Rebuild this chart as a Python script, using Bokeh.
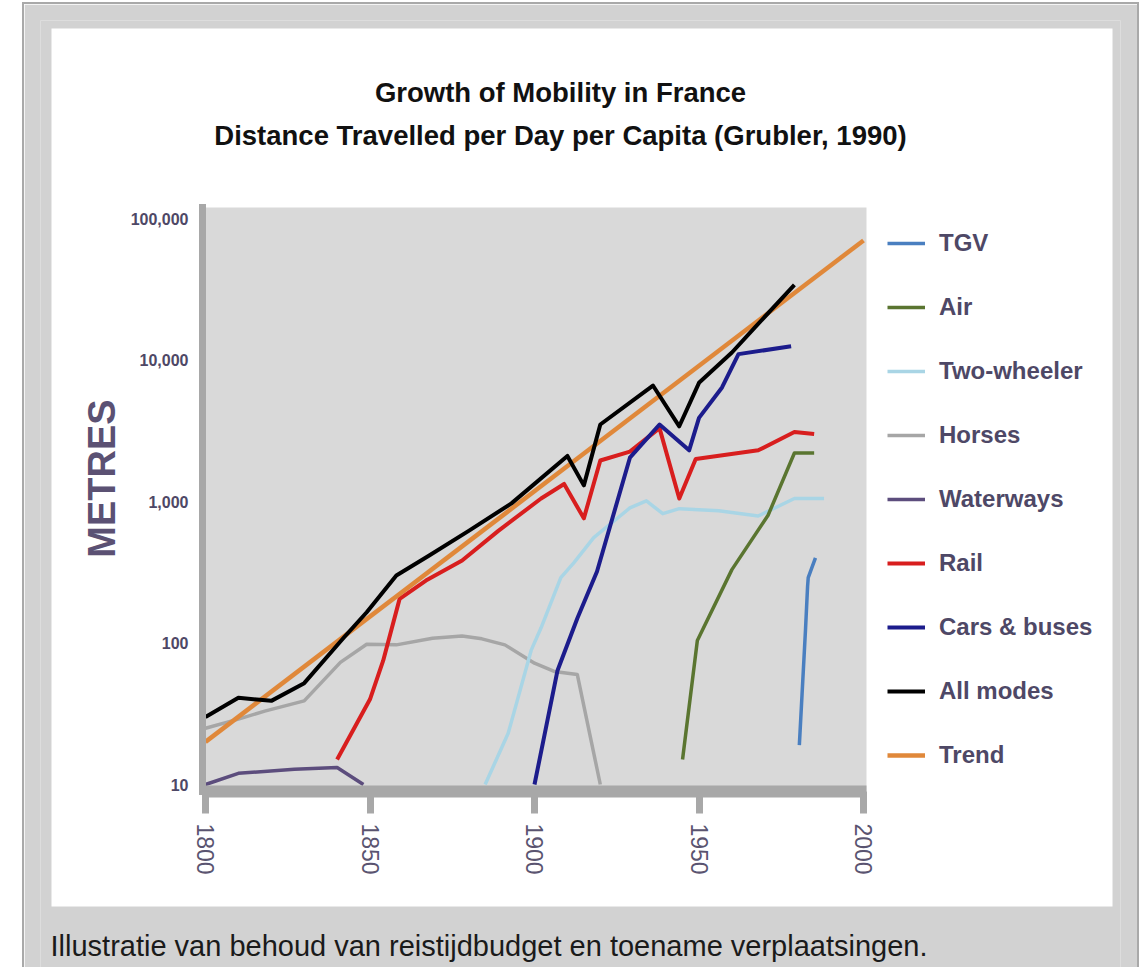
import math
from bokeh.plotting import figure
from bokeh.models import (Range1d, FixedTicker, NumeralTickFormatter, Legend, LegendItem,
                          Label, BoxAnnotation)
from bokeh.embed import file_html
from bokeh.resources import INLINE

# ---------------- data ----------------
x_ticks = [1800, 1850, 1900, 1950, 2000]
y_ticks = [10, 100, 1000, 10000, 100000]

trend_years = [1800, 2000]
trend_vals = [20, 70000]

all_years = [1800, 1810, 1820, 1830, 1842, 1849, 1858, 1868, 1880, 1893, 1910, 1915,
             1920, 1936, 1944, 1950, 1960, 1967, 1979]
all_vals = [30, 41, 39, 52, 109, 165, 300, 415, 620, 970, 2100, 1300,
            3500, 6600, 3400, 6900, 11300, 17000, 34000]

rail_years = [1840, 1850, 1854, 1859, 1867, 1878, 1889, 1902, 1909, 1915, 1920, 1929,
              1938, 1944, 1949, 1968, 1979, 1985]
rail_vals = [15, 40, 75, 205, 276, 383, 620, 1050, 1330, 760, 1950, 2250,
             3300, 1050, 2000, 2300, 3100, 3000]

horse_years = [1800, 1810, 1818, 1830, 1841, 1849, 1858, 1869, 1878, 1884, 1891, 1900,
               1906, 1913, 1920]
horse_vals = [25, 29, 33, 39, 73, 98, 97, 108, 112, 107, 97, 72, 63, 60, 10]

water_years = [1800, 1810, 1827, 1840, 1848]
water_vals = [10, 12, 12.8, 13.2, 10]

two_years = [1885, 1892, 1899, 1902, 1908, 1912, 1918, 1929, 1934, 1939, 1944, 1956,
             1968, 1979, 1988]
two_vals = [10, 23, 89, 128, 290, 370, 556, 900, 1010, 820, 890, 860, 790, 1050, 1050]

car_years = [1900, 1907, 1913, 1919, 1929, 1938, 1947, 1950, 1957, 1962, 1978]
car_vals = [10, 64, 149, 320, 2040, 3500, 2300, 3900, 6400, 11000, 12500]

air_years = [1945, 1949.5, 1960, 1971, 1979, 1985]
air_vals = [15, 104, 330, 800, 2200, 2200]

tgv_years = [1980.5, 1982.4, 1983, 1983.2, 1985.4]
tgv_vals = [19, 128, 250, 290, 400]

series_names = ["TGV", "Air", "Two-wheeler", "Horses", "Waterways", "Rail",
                "Cars & buses", "All modes", "Trend"]
series_colors = {
    "TGV": "#4a7fc0",
    "Air": "#5a7530",
    "Two-wheeler": "#a9d5e5",
    "Horses": "#a6a6a6",
    "Waterways": "#5c4d7d",
    "Rail": "#d81e1e",
    "Cars & buses": "#1c1c8c",
    "All modes": "#000000",
    "Trend": "#e0883a",
}
series_data = {
    "TGV": (tgv_years, tgv_vals),
    "Air": (air_years, air_vals),
    "Two-wheeler": (two_years, two_vals),
    "Horses": (horse_years, horse_vals),
    "Waterways": (water_years, water_vals),
    "Rail": (rail_years, rail_vals),
    "Cars & buses": (car_years, car_vals),
    "All modes": (all_years, all_vals),
    "Trend": (trend_years, trend_vals),
}
draw_order = ["Horses", "Waterways", "Two-wheeler", "Air", "TGV", "Rail",
              "Cars & buses", "Trend", "All modes"]

title_line1 = "Growth of Mobility in France"
title_line2 = "Distance Travelled per Day per Capita (Grubler, 1990)"
caption_text = "Illustratie van behoud van reistijdbudget en toename verplaatsingen."
y_title = "METRES"

# ---------------- layout constants (page pixels) ----------------
SANS = "Liberation Sans"
LABEL_COL = "#4e4866"
AXIS_GREY = "#a8a8a8"
OUTER_GREY = "#d2d2d2"
PLOT_GREY = "#d9d9d9"

CANVAS_L, CANVAS_T, CANVAS_W, CANVAS_H = 24, 4, 1113, 963
FRAME_L, FRAME_T, FRAME_R, FRAME_B = 40, 20, 1120, 967
X0_PX, PX_PER_YEAR = 205.0, 3.29          # 1800 sits at x=205
Y10_PX, PX_PER_DECADE = 784.0, 141.5      # 10 m sits at y=784
DATA_L_PX, DATA_R_PX, DATA_T_PX, DATA_B_PX = 202, 866, 207, 791


def year_at(px):
    return 1800 + (px - X0_PX) / PX_PER_YEAR


def metres_at(py):
    return 10 ** (1 + (Y10_PX - py) / PX_PER_DECADE)


x_lo, x_hi = year_at(DATA_L_PX), year_at(DATA_R_PX)
y_lo, y_hi = metres_at(DATA_B_PX), metres_at(DATA_T_PX)

p = figure(width=CANVAS_W, height=CANVAS_H,
           min_border_left=FRAME_L - CANVAS_L,
           min_border_right=CANVAS_L + CANVAS_W - FRAME_R,
           min_border_top=FRAME_T - CANVAS_T,
           min_border_bottom=CANVAS_T + CANVAS_H - FRAME_B,
           margin=(CANVAS_T, 0, 0, CANVAS_L),
           x_range=Range1d(year_at(FRAME_L), year_at(FRAME_R)),
           y_range=Range1d(metres_at(FRAME_B), metres_at(FRAME_T)),
           y_axis_type="log", output_backend="svg", toolbar_location=None,
           styles={"outline": "2px solid #a9a9a9"})

p.border_fill_color = OUTER_GREY
p.background_fill_color = OUTER_GREY
p.outline_line_color = None
p.grid.visible = False


def sx(px):
    return px - FRAME_L


def sy(py):
    return FRAME_B - py


# white panel and grey plotting area
p.add_layout(BoxAnnotation(left=sx(51), right=sx(1112), top=sy(28), bottom=sy(906),
                           left_units="screen", right_units="screen",
                           top_units="screen", bottom_units="screen",
                           fill_color="white", fill_alpha=1.0, line_color=None,
                           level="underlay"))
p.add_layout(BoxAnnotation(left=x_lo, right=x_hi, bottom=y_lo, top=y_hi,
                           fill_color=PLOT_GREY, fill_alpha=1.0, line_color=None,
                           level="underlay"))

renderers = {}
for name in draw_order:
    xs, ys = series_data[name]
    lw = 4.5 if name == "Trend" else 4
    if name in ("TGV", "Two-wheeler", "Horses", "Waterways", "Air"):
        lw = 3.5
    renderers[name] = p.line(xs, ys, line_color=series_colors[name], line_width=lw,
                             line_join="round")

# axes drawn at the edges of the grey area
xa = p.xaxis[0]
xa.fixed_location = y_lo
xa.bounds = (x_lo, x_hi)
xa.ticker = FixedTicker(ticks=x_ticks)
xa.axis_line_color = AXIS_GREY
xa.axis_line_width = 12
xa.major_tick_line_color = AXIS_GREY
xa.major_tick_line_width = 7
xa.major_tick_out = 22
xa.major_tick_in = 0
xa.minor_tick_line_color = None
xa.major_label_orientation = "vertical"
xa.major_label_standoff = 10
xa.major_label_text_font = SANS
xa.major_label_text_font_size = "23px"
xa.major_label_text_color = "#5a5470"

ya = p.yaxis[0]
ya.fixed_location = x_lo
ya.bounds = (y_lo, y_hi)
ya.ticker = FixedTicker(ticks=y_ticks)
ya.formatter = NumeralTickFormatter(format="0,0")
ya.axis_line_color = AXIS_GREY
ya.axis_line_width = 7
ya.axis_line_cap = "square"
ya.major_tick_line_color = None
ya.minor_tick_line_color = None
ya.major_tick_out = 0
ya.major_tick_in = 0
ya.major_label_standoff = 14
ya.major_label_text_font = SANS
ya.major_label_text_font_style = "bold"
ya.major_label_text_font_size = "16px"
ya.major_label_text_color = LABEL_COL

p.add_layout(Label(x=sx(101), y=sy(478), x_units="screen", y_units="screen",
                   text=y_title, angle=math.pi / 2, text_align="center",
                   text_baseline="middle", text_font=SANS, text_font_style="bold",
                   text_font_size="38px", text_color="#5b5173"))

# legend to the right of the grey area
items = [LegendItem(label=n, renderers=[renderers[n]]) for n in series_names]
n_items = len(items)
item_h, item_gap = 30, 34
legend_h = n_items * item_h + (n_items - 1) * item_gap
legend = Legend(items=items, location=(sx(887), sy(228 + legend_h)),
                orientation="vertical",
                glyph_width=38, glyph_height=item_h, label_height=item_h,
                spacing=item_gap, label_standoff=14, padding=0, margin=0,
                background_fill_alpha=0, border_line_color=None,
                label_text_font=SANS, label_text_font_style="bold",
                label_text_font_size="24px", label_text_color=LABEL_COL)
p.add_layout(legend, "center")

# title lines
for txt, ty in ((title_line1, 92), (title_line2, 135)):
    p.add_layout(Label(x=sx(560), y=sy(ty), x_units="screen", y_units="screen",
                       text=txt, text_align="center", text_baseline="middle",
                       text_font=SANS, text_font_style="bold", text_font_size="27.5px",
                       text_color="#111111"))

# caption on the grey page below the white panel
p.add_layout(Label(x=sx(50), y=sy(945), x_units="screen", y_units="screen",
                   text=caption_text, text_align="left", text_baseline="middle",
                   text_font=SANS, text_font_size="29px", text_color="#1a1a1a"))

open("out.html", "w").write(file_html(p, INLINE))
